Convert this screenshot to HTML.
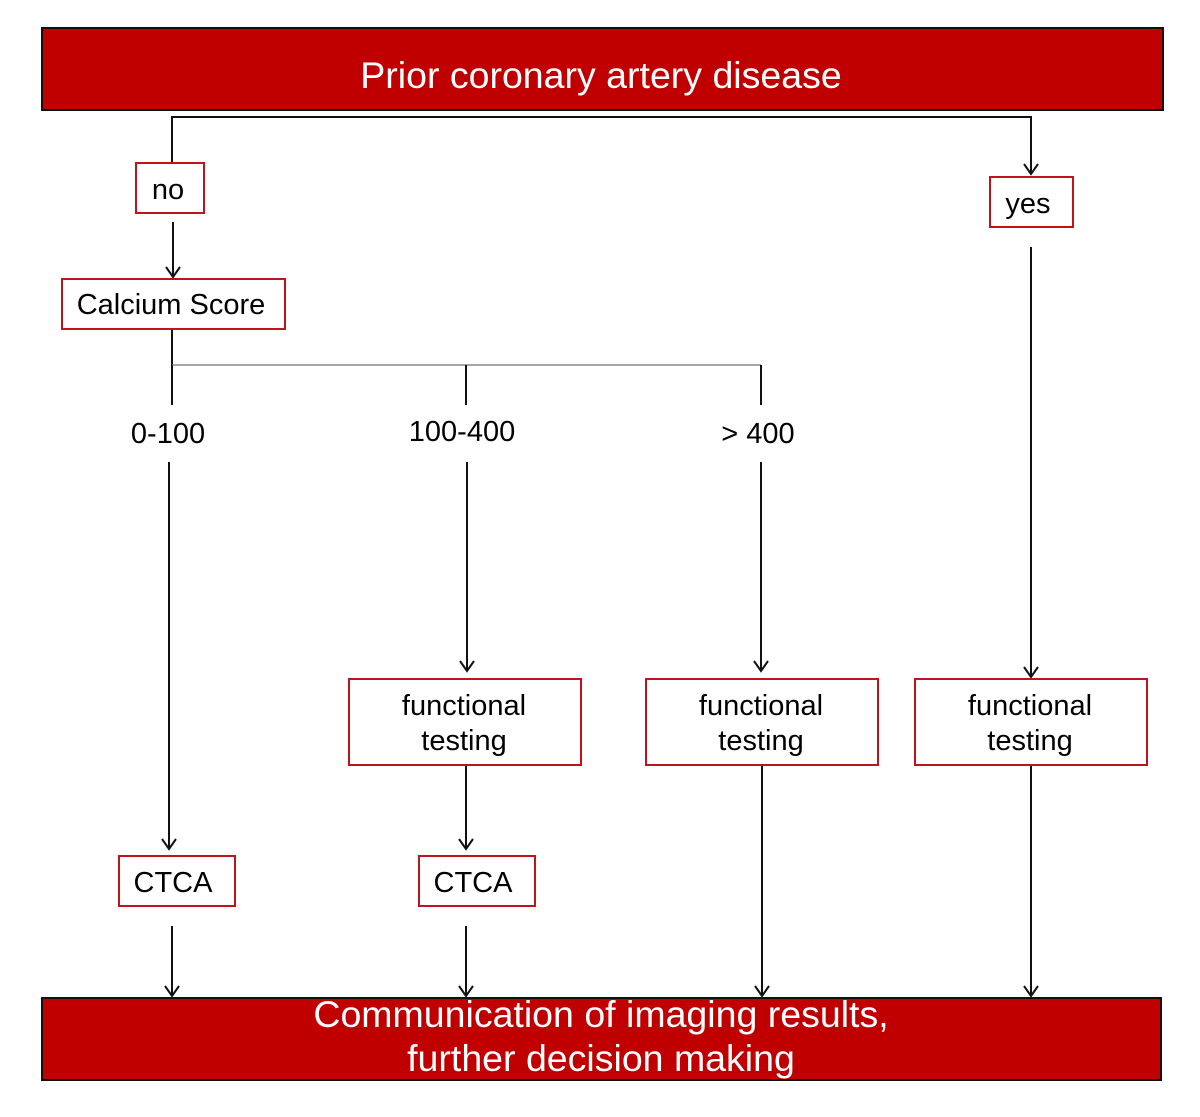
<!DOCTYPE html>
<html><head><meta charset="utf-8"><style>
html,body{margin:0;padding:0;background:#fff;}
svg{display:block;}
text{font-family:"Liberation Sans",Arial,sans-serif;}
</style></head><body>
<svg width="1200" height="1117" viewBox="0 0 1200 1117" xmlns="http://www.w3.org/2000/svg">
<defs>
<marker id="a" markerWidth="20" markerHeight="20" refX="14" refY="10" orient="auto" markerUnits="userSpaceOnUse" viewBox="0 0 20 20">
<path d="M4,3 L14,10 L4,17" fill="none" stroke="#111" stroke-width="2"/>
</marker>
</defs>
<rect x="42" y="28" width="1121" height="82" fill="#c00000" stroke="#111" stroke-width="2"/>
<text x="601" y="88" font-size="37.5" fill="#fff" text-anchor="middle">Prior coronary artery disease</text>

<g stroke="#111" stroke-width="2" fill="none">
<path d="M172,163 V117 H1031 V174" marker-end="url(#a)"/>
<path d="M173,222 V277" marker-end="url(#a)"/>
<path d="M172,329 V365"/>
<path d="M172,365 H761" stroke="#888" stroke-width="1.5"/>
<path d="M172,365 V405 M466,365 V405 M761,365 V405"/>
<path d="M169,462 V849" marker-end="url(#a)"/>
<path d="M467,462 V671" marker-end="url(#a)"/>
<path d="M761,462 V671" marker-end="url(#a)"/>
<path d="M1031,247 V677" marker-end="url(#a)"/>
<path d="M466,765 V849" marker-end="url(#a)"/>
<path d="M172,926 V996" marker-end="url(#a)"/>
<path d="M466,926 V996" marker-end="url(#a)"/>
<path d="M762,765 V996" marker-end="url(#a)"/>
<path d="M1031,765 V996" marker-end="url(#a)"/>
</g>

<g fill="#fff" stroke="#c0141c" stroke-width="2">
<rect x="136" y="163" width="68" height="50"/>
<rect x="990" y="177" width="83" height="50"/>
<rect x="62" y="279" width="223" height="50"/>
<rect x="349" y="679" width="232" height="86"/>
<rect x="646" y="679" width="232" height="86"/>
<rect x="915" y="679" width="232" height="86"/>
<rect x="119" y="856" width="116" height="50"/>
<rect x="419" y="856" width="116" height="50"/>
</g>

<g font-size="29" fill="#000" text-anchor="middle">
<text x="168" y="199">no</text>
<text x="1028" y="213">yes</text>
<text x="171" y="314">Calcium Score</text>
<text x="168" y="443">0-100</text>
<text x="462" y="441">100-400</text>
<text x="758" y="443">&gt; 400</text>
<text x="464" y="715">functional</text>
<text x="464" y="750">testing</text>
<text x="761" y="715">functional</text>
<text x="761" y="750">testing</text>
<text x="1030" y="715">functional</text>
<text x="1030" y="750">testing</text>
<text x="173" y="892">CTCA</text>
<text x="473" y="892">CTCA</text>
</g>

<rect x="42" y="998" width="1119" height="82" fill="#c00000" stroke="#111" stroke-width="2"/>
<text x="601" y="1027" font-size="37.5" fill="#fff" text-anchor="middle">Communication of imaging results,</text>
<text x="601" y="1071" font-size="37.5" fill="#fff" text-anchor="middle">further decision making</text>
</svg>
</body></html>
